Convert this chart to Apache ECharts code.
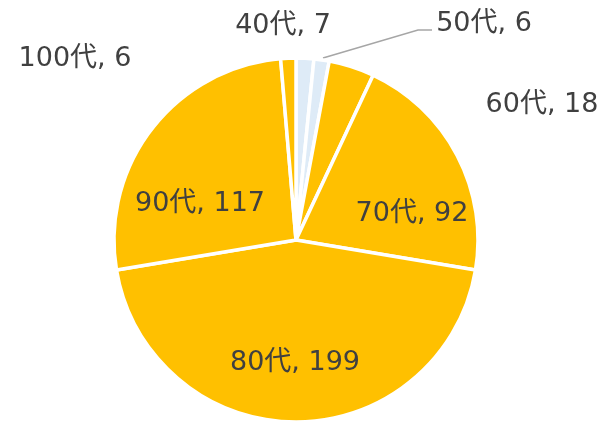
<!DOCTYPE html>
<html>
<head>
<meta charset="utf-8">
<script src="https://cdn.jsdelivr.net/npm/echarts@6/dist/echarts.min.js"></script>
<style>
html,body{margin:0;padding:0;background:#fff;}
#c{width:606px;height:422px;}
</style>
</head>
<body>
<div id="c"></div>
<script>
const categories = ['40代', '50代', '60代', '70代', '80代', '90代', '100代'];
const values = [7, 6, 18, 92, 199, 117, 6];
const colors = ['#DEEBF7', '#DEEBF7', '#FFC000', '#FFC000', '#FFC000', '#FFC000', '#FFC000'];

const labelPos = [
  {x: 283, y: 26},
  {x: 484, y: 24},
  {x: 542, y: 105},
  {x: 412, y: 214},
  {x: 295, y: 363},
  {x: 200, y: 204},
  {x: 75, y: 59}
];

const chart = echarts.init(document.getElementById('c'));
chart.setOption({
  animation: false,
  series: [{
    type: 'pie',
    center: [296, 240],
    radius: [0, 182],
    startAngle: 90,
    clockwise: true,
    avoidLabelOverlap: false,
    itemStyle: {borderColor: '#ffffff', borderWidth: 3.5},
    label: {
      show: true,
      position: 'outside',
      formatter: '{b}, {c}',
      color: '#404040',
      fontSize: 27,
      fontFamily: '"DejaVu Sans", "Noto Sans CJK JP", sans-serif'
    },
    labelLine: {show: false},
    labelLayout: function (p) {
      const lp = labelPos[p.dataIndex];
      const r = {x: lp.x, y: lp.y, align: 'center', verticalAlign: 'middle'};
      if (p.dataIndex === 1) {
        r.labelLinePoints = [[323, 58], [418, 30], [432, 30]];
      }
      return r;
    },
    data: categories.map((c, i) => ({
      name: c,
      value: values[i],
      itemStyle: {color: colors[i]},
      labelLine: i === 1 ? {show: true, length: 10, length2: 10, lineStyle: {color: '#A6A6A6', width: 1.5}} : {show: false}
    }))
  }]
});
</script>
</body>
</html>
